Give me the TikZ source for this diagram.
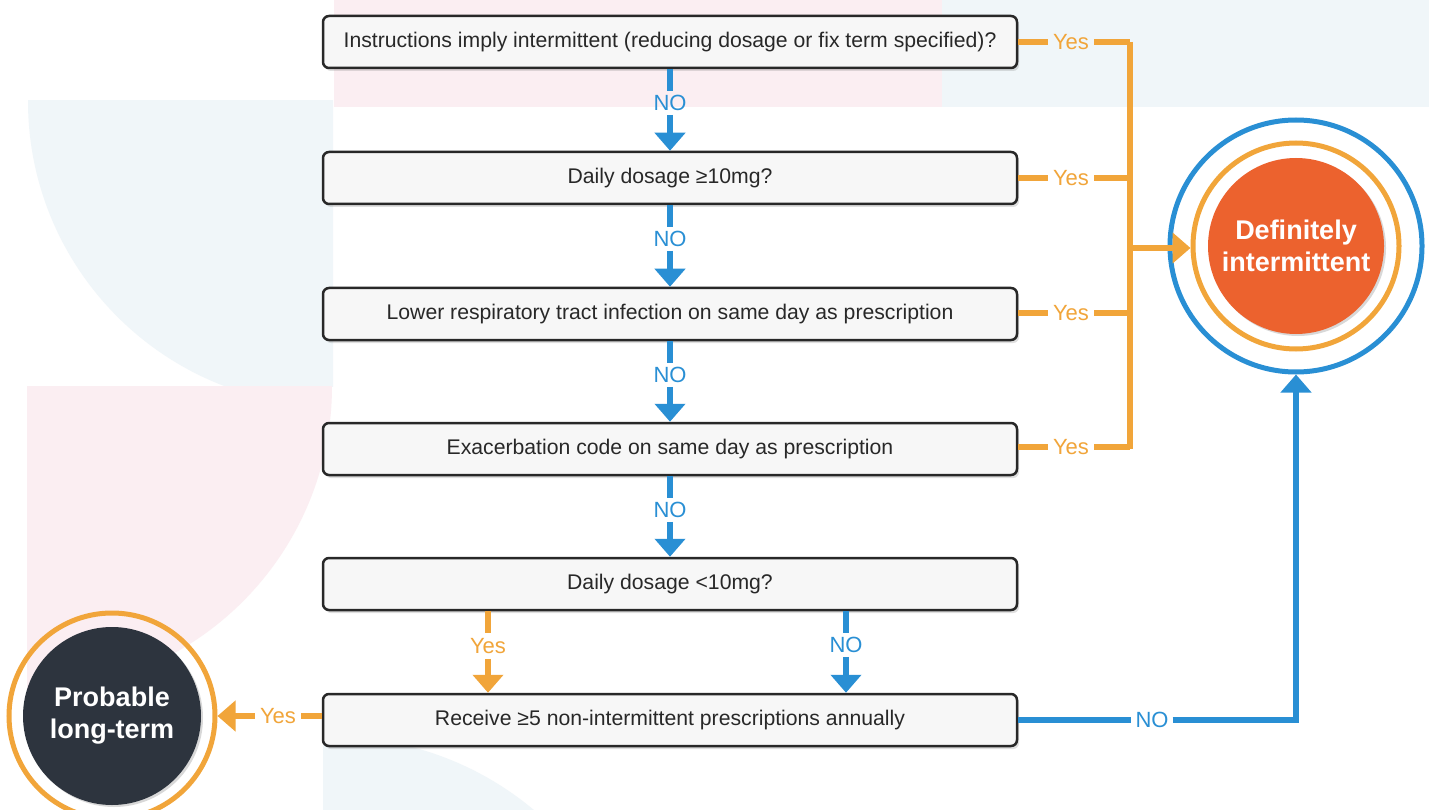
\documentclass[tikz,border=0pt]{standalone}
\usepackage{fontspec}
\setmainfont{Liberation Sans}
\usetikzlibrary{calc,arrows.meta,shadows}

\definecolor{noblue}{RGB}{41,143,212}
\definecolor{yesorange}{RGB}{241,165,58}
\definecolor{intred}{RGB}{236,98,46}
\definecolor{ltdark}{RGB}{45,52,62}
\definecolor{boxfill}{RGB}{247,247,247}
\definecolor{boxline}{RGB}{40,40,40}
\definecolor{qtext}{RGB}{40,40,40}
\definecolor{bgpink}{RGB}{251,238,242}
\definecolor{bgblue}{RGB}{240,246,249}

\tikzset{
  qbox/.style={rectangle, draw=boxline, line width=2.5pt, fill=boxfill,
    rounded corners=6pt, minimum width=694pt, minimum height=52pt,
    inner sep=0pt, text=qtext, font=\fontsize{21.2}{25}\selectfont,
    drop shadow={opacity=0.25, shadow xshift=2pt, shadow yshift=-3pt}},
  nolab/.style={text=noblue, inner sep=4pt, font=\fontsize{22}{26}\selectfont},
  yeslab/.style={text=yesorange, inner sep=5pt, font=\fontsize{22}{26}\selectfont},
  noline/.style={draw=noblue, line width=6.5pt},
  yesline/.style={draw=yesorange, line width=6.5pt},
  noarrow/.style={noline, -{Triangle[width=30pt,length=18pt]}},
  yesarrow/.style={yesline, -{Triangle[width=30pt,length=18pt]}},
  endtext/.style={circle, inner sep=0pt, text=white, align=center,
    font=\bfseries\fontsize{27}{32}\selectfont}
}

\begin{document}
\begin{tikzpicture}[x=1pt, y=-1pt, line join=miter]
  \useasboundingbox (0,0) rectangle (1429,810);
  \fill[white] (0,0) rectangle (1429,810);

  % background shapes
  \fill[bgpink] (334,0) rectangle (942,107);
  \fill[bgblue] (942,0) rectangle (1429,107);
  \begin{scope}
    \clip (27,101) rectangle (333,386);
    \fill[bgblue] (333,101) circle (305);
  \end{scope}
  \begin{scope}
    \clip (27,386) rectangle (340,810);
    \fill[bgpink] (27,386) circle (305);
  \end{scope}
  \begin{scope}
    \clip (323,737) rectangle (700,810);
    \fill[bgblue] (333,1050) circle (313);
  \end{scope}

  % question boxes
  \foreach \i/\y/\t in {
      1/42/{Instructions imply intermittent (reducing dosage or fix term specified)?},
      2/178/{Daily dosage ≥10mg?},
      3/314/{Lower respiratory tract infection on same day as prescription},
      4/449/{Exacerbation code on same day as prescription},
      5/584/{Daily dosage <10mg?},
      6/720/{Receive ≥5 non-intermittent prescriptions annually}}
    \node[qbox] (q\i) at (670,\y) {\t};

  % end circles
  \node[circle, draw=noblue, line width=5pt, minimum size=252pt, inner sep=0pt] (defint) at (1296,246) {};
  \node[circle, draw=yesorange, line width=5pt, minimum size=206pt, inner sep=0pt] (defring) at (defint) {};
  \node[endtext, fill=intred, minimum size=176pt,
    drop shadow={opacity=0.3, shadow xshift=2pt, shadow yshift=-2pt}] (deftxt) at (defint) {Definitely\\intermittent};

  \node[circle, draw=yesorange, line width=5pt, minimum size=206pt, inner sep=0pt] (longterm) at (112,716) {};
  \node[endtext, fill=ltdark, minimum size=178pt,
    drop shadow={opacity=0.3, shadow xshift=2pt, shadow yshift=-2pt}] (lttxt) at (longterm) {Probable\\long-term};

  % NO arrows down the column
  \foreach \i/\y in {1/103, 2/239, 3/375, 4/510} {
    \pgfmathtruncatemacro{\j}{\i+1}
    \node[nolab] (n\i) at (670,\y) {NO};
    \draw[noline] (q\i) -- (n\i);
    \draw[noarrow] (n\i) -- (q\j);
  }

  % Yes branches to the bus
  \coordinate (bt) at (1130,42);
  \coordinate (bb) at (1130,449);
  \coordinate (bm) at (1130,248);
  \foreach \i/\y in {1/42, 2/178, 3/313, 4/447} {
    \node[yeslab] (y\i) at (1071,\y) {Yes};
    \draw[yesline] (q\i.east |- y\i) -- (y\i);
    \draw[yesline] (y\i) -- (y\i -| bt);
  }
  \draw[yesline] (bt) -- (bb);
  \draw[yesarrow] (bm) -- (bm -| defring.west);

  % split below box 5
  \node[yeslab] (y5) at (488,646) {Yes};
  \draw[yesline] (y5 |- q5.south) -- (y5);
  \draw[yesarrow] (y5) -- (y5 |- q6.north);
  \node[nolab] (n5) at (846,645) {NO};
  \draw[noline] (n5 |- q5.south) -- (n5);
  \draw[noarrow] (n5) -- (n5 |- q6.north);

  % last box
  \node[yeslab] (y6) at (278,716) {Yes};
  \draw[yesline] (q6.west |- y6) -- (y6);
  \draw[yesarrow] (y6) -- (longterm);
  \node[nolab] (n6) at (1152,720) {NO};
  \draw[noline] (q6.east |- n6) -- (n6);
  \draw[noarrow] (n6) -- (n6 -| defint) -- (defint.south);
\end{tikzpicture}
\end{document}
